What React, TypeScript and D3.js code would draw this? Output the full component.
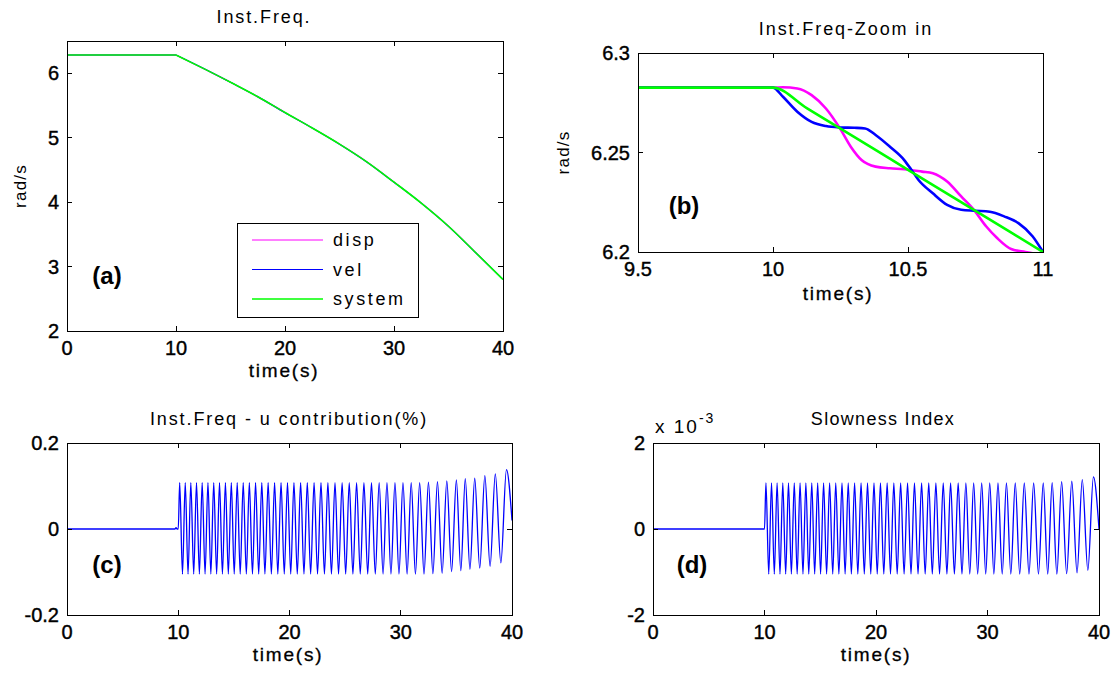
import React from "react";
import * as d3 from "d3";

// ---------- DATA ----------
// (a) instantaneous frequency, rad/s
const timeA = [0, 10, 12.5, 15, 17.5, 20, 22.5, 25, 27.5, 30, 32.5, 35, 37.5, 40];
const freqDispA = [6.283, 6.283, 6.073, 5.861, 5.633, 5.392, 5.149, 4.901, 4.627, 4.312, 3.986, 3.626, 3.216, 2.8];
const freqVelA = [6.283, 6.283, 6.077, 5.859, 5.637, 5.388, 5.151, 4.899, 4.623, 4.308, 3.984, 3.624, 3.214, 2.8];
const freqSysA = [6.283, 6.283, 6.075, 5.86, 5.635, 5.39, 5.15, 4.9, 4.625, 4.31, 3.985, 3.625, 3.215, 2.8];

// (b) zoom on 9.5 - 11 s
const timeDispB = [9.5, 10, 10.037, 10.09, 10.143, 10.196, 10.248, 10.288, 10.328, 10.38, 10.433, 10.486, 10.552, 10.592, 10.645, 10.697, 10.744, 10.79, 10.83, 10.882, 10.935, 11.0];
const freqDispB = [6.2826, 6.2826, 6.2828, 6.2822, 6.2788, 6.2721, 6.2621, 6.2529, 6.2462, 6.2429, 6.2421, 6.2416, 6.2404, 6.2396, 6.2354, 6.2279, 6.2212, 6.2128, 6.207, 6.2015, 6.2, 6.1985];
const timeVelB = [9.5, 10, 10.037, 10.09, 10.143, 10.196, 10.248, 10.301, 10.341, 10.38, 10.433, 10.486, 10.513, 10.539, 10.592, 10.645, 10.697, 10.75, 10.803, 10.856, 10.909, 10.962, 11.0];
const freqVelB = [6.2826, 6.2826, 6.278, 6.2705, 6.2654, 6.2633, 6.2626, 6.2624, 6.2621, 6.2588, 6.2529, 6.2462, 6.2412, 6.2362, 6.2295, 6.2237, 6.2212, 6.2207, 6.2202, 6.2179, 6.2145, 6.2078, 6.2];
const timeSysB = [9.5, 10, 10.125, 10.25, 10.375, 10.5, 10.625, 10.75, 10.875, 11.0];
const freqSysB = [6.2826, 6.2826, 6.2723, 6.262, 6.2517, 6.2413, 6.231, 6.2207, 6.2104, 6.2];

// (c)/(d) oscillation: times of the maxima and minima after 10 s
const maxTimes = [10.13, 10.63, 11.13, 11.64, 12.15, 12.67, 13.19, 13.71, 14.24, 14.77, 15.3, 15.84, 16.39, 16.95, 17.51, 18.08, 18.66, 19.24, 19.82, 20.4, 21.0, 21.6, 22.21, 22.83, 23.45, 24.09, 24.73, 25.37, 26.03, 26.69, 27.37, 28.06, 28.76, 29.48, 30.2, 30.94, 31.7, 32.49, 33.3, 34.14, 35.0, 35.8, 36.65, 37.56, 38.5, 39.5];
const minTimes = [10.38, 10.88, 11.39, 11.9, 12.41, 12.93, 13.45, 13.97, 14.5, 15.03, 15.57, 16.12, 16.67, 17.23, 17.79, 18.37, 18.95, 19.53, 20.11, 20.7, 21.3, 21.9, 22.52, 23.14, 23.77, 24.41, 25.05, 25.7, 26.36, 27.03, 27.71, 28.41, 29.12, 29.84, 30.57, 31.32, 32.09, 32.89, 33.72, 34.57, 35.4, 36.22, 37.1, 38.03, 39.0];

// (c) u contribution (%)
const maxValsC = [0.108, 0.108, 0.108, 0.108, 0.108, 0.108, 0.108, 0.108, 0.108, 0.108, 0.108, 0.108, 0.108, 0.108, 0.108, 0.108, 0.108, 0.108, 0.108, 0.108, 0.108, 0.108, 0.108, 0.108, 0.108, 0.108, 0.108, 0.108, 0.108, 0.108, 0.108, 0.108, 0.108, 0.108, 0.108, 0.108, 0.108, 0.109, 0.11, 0.112, 0.114, 0.117, 0.118, 0.124, 0.128, 0.138];
const minValsC = [-0.105, -0.105, -0.105, -0.105, -0.105, -0.105, -0.105, -0.105, -0.105, -0.105, -0.105, -0.105, -0.105, -0.105, -0.105, -0.105, -0.105, -0.105, -0.105, -0.105, -0.105, -0.105, -0.105, -0.105, -0.105, -0.105, -0.105, -0.105, -0.105, -0.105, -0.105, -0.105, -0.105, -0.105, -0.105, -0.105, -0.105, -0.104, -0.103, -0.099, -0.097, -0.094, -0.091, -0.087, -0.079];
const preTimesC = [0, 9.7, 9.8, 9.9, 10.0];
const preValsC = [0, 0, 0.003, 0, 0];
const endTimeC = 40;
const endValC = 0.02;

// (d) slowness index (x 10^-3)
const maxValsD = [1.07, 1.07, 1.07, 1.07, 1.07, 1.07, 1.07, 1.07, 1.07, 1.07, 1.07, 1.07, 1.07, 1.07, 1.07, 1.07, 1.07, 1.07, 1.07, 1.07, 1.07, 1.07, 1.07, 1.07, 1.07, 1.07, 1.07, 1.07, 1.07, 1.07, 1.07, 1.07, 1.07, 1.07, 1.07, 1.07, 1.07, 1.07, 1.07, 1.07, 1.07, 1.08, 1.1, 1.11, 1.15, 1.21];
const minValsD = [-1.05, -1.05, -1.05, -1.05, -1.05, -1.05, -1.05, -1.05, -1.05, -1.05, -1.05, -1.05, -1.05, -1.05, -1.05, -1.05, -1.05, -1.05, -1.05, -1.05, -1.05, -1.05, -1.05, -1.05, -1.05, -1.05, -1.05, -1.05, -1.05, -1.05, -1.05, -1.05, -1.05, -1.05, -1.05, -1.05, -1.05, -1.05, -1.05, -1.05, -1.05, -1.05, -1.04, -1.02, -0.96];
const preTimesD = [0, 10.0];
const preValsD = [0, 0];
const endTimeD = 40;
const endValD = 0.0;

// ticks
const xTicksTime = [0, 10, 20, 30, 40];
const yTicksA = [2, 3, 4, 5, 6];
const xTicksB = [9.5, 10, 10.5, 11];
const xTickLabelsB = ["9.5", "10", "10.5", "11"];
const yTicksB = [6.2, 6.25, 6.3];
const yTickLabelsB = ["6.2", "6.25", "6.3"];
const yTicksC = [-0.2, 0, 0.2];
const yTickLabelsC = ["-0.2", "0", "0.2"];
const yTicksD = [-2, 0, 2];

const legendNames = ["disp", "vel", "system"];
const COLORS: Record<string, string> = { disp: "#ff00ff", vel: "#0000ff", system: "#00ff00" };

// ---------- HELPERS ----------
const FONT = "'Liberation Sans', Arial, Helvetica, sans-serif";

type Pt = [number, number];
const zip = (t: number[], v: number[]): Pt[] => t.map((x, i) => [x, v[i]] as Pt);

function oscSeries(preT: number[], preV: number[], maxT: number[], maxV: number[], minT: number[], minV: number[], endT: number, endV: number): Pt[] {
  const pts: Pt[] = zip(preT, preV);
  for (let i = 0; i < maxT.length; i++) {
    pts.push([maxT[i], maxV[i]]);
    if (i < minT.length) pts.push([minT[i], minV[i]]);
  }
  pts.push([endT, endV]);
  return pts;
}

type PanelProps = {
  id: string;
  x0: number; x1: number; y0: number; y1: number;
  xDomain: [number, number]; yDomain: [number, number];
  xTicks: number[]; xLabels: string[];
  yTicks: number[]; yLabels: string[];
  title: string; titleX: number; titleSpacing: number;
  xlabel: string; xlabelX: number; xlabelDy: number;
  ylabel?: string; ylabelX?: number;
  children: (x: d3.ScaleLinear<number, number>, y: d3.ScaleLinear<number, number>) => React.ReactNode;
};

function Panel(p: PanelProps) {
  const x = d3.scaleLinear().domain(p.xDomain).range([p.x0, p.x1]);
  const y = d3.scaleLinear().domain(p.yDomain).range([p.y1, p.y0]);
  const tl = 5;
  const cy = (p.y0 + p.y1) / 2;
  return (
    <g>
      <defs>
        <clipPath id={"clip-" + p.id}>
          <rect x={p.x0} y={p.y0} width={p.x1 - p.x0} height={p.y1 - p.y0} />
        </clipPath>
      </defs>
      <rect x={p.x0} y={p.y0} width={p.x1 - p.x0} height={p.y1 - p.y0} fill="#fff" />
      <g clipPath={`url(#clip-${p.id})`}>{p.children(x, y)}</g>
      <rect x={p.x0} y={p.y0} width={p.x1 - p.x0} height={p.y1 - p.y0} fill="none" stroke="#000" strokeWidth={1} shapeRendering="crispEdges" />
      {p.xTicks.map((t, i) => (
        <g key={"xt" + i}>
          <line x1={x(t)} x2={x(t)} y1={p.y1} y2={p.y1 - tl} stroke="#000" shapeRendering="crispEdges" />
          <line x1={x(t)} x2={x(t)} y1={p.y0} y2={p.y0 + tl} stroke="#000" shapeRendering="crispEdges" />
          <text x={x(t)} y={p.y1 + 24} textAnchor="middle" fontSize={20} fontFamily={FONT} fill="#000" stroke="#000" strokeWidth={0.4}>{p.xLabels[i]}</text>
        </g>
      ))}
      {p.yTicks.map((t, i) => (
        <g key={"yt" + i}>
          <line x1={p.x0} x2={p.x0 + tl} y1={y(t)} y2={y(t)} stroke="#000" shapeRendering="crispEdges" />
          <line x1={p.x1} x2={p.x1 - tl} y1={y(t)} y2={y(t)} stroke="#000" shapeRendering="crispEdges" />
          <text x={p.x0 - 8} y={y(t) + 7} textAnchor="end" fontSize={20} fontFamily={FONT} fill="#000" stroke="#000" strokeWidth={0.4}>{p.yLabels[i]}</text>
        </g>
      ))}
      <text x={p.titleX} y={p.y0 - 18} textAnchor="middle" fontSize={18} letterSpacing={p.titleSpacing} fontFamily={FONT} fill="#000">{p.title}</text>
      <text x={p.xlabelX} y={p.y1 + p.xlabelDy} textAnchor="middle" fontSize={19} letterSpacing={1.8} fontFamily={FONT} fill="#000" stroke="#000" strokeWidth={0.3}>{p.xlabel}</text>
      {p.ylabel ? (
        <text transform={`translate(${p.ylabelX},${cy}) rotate(-90)`} textAnchor="middle" fontSize={17} letterSpacing={1.2} fontFamily={FONT} fill="#000">{p.ylabel}</text>
      ) : null}
    </g>
  );
}

export default function App() {
  const fmt = (v: number) => String(v);
  const seriesA = [
    { name: "disp", t: timeA, v: freqDispA },
    { name: "vel", t: timeA, v: freqVelA },
    { name: "system", t: timeA, v: freqSysA },
  ];
  const seriesB = [
    { name: "disp", pts: zip(timeDispB, freqDispB) },
    { name: "vel", pts: zip(timeVelB, freqVelB) },
    { name: "system", pts: zip(timeSysB, freqSysB) },
  ];
  const seriesC = oscSeries(preTimesC, preValsC, maxTimes, maxValsC, minTimes, minValsC, endTimeC, endValC);
  const seriesD = oscSeries(preTimesD, preValsD, maxTimes, maxValsD, minTimes, minValsD, endTimeD, endValD);

  return (
    <svg width={1116} height={675} style={{ position: "absolute", left: 0, top: 0, background: "#fff" }}>
      <rect width={1116} height={675} fill="#fff" />
      {/* (a) */}
      <Panel id="a" x0={67} x1={503} y0={41} y1={331} xDomain={[0, 40]} yDomain={[2, 6.5]}
        xTicks={xTicksTime} xLabels={xTicksTime.map(fmt)} yTicks={yTicksA} yLabels={yTicksA.map(fmt)}
        title="Inst.Freq." titleX={264} titleSpacing={1.9} xlabel="time(s)" xlabelX={284} xlabelDy={46} ylabel="rad/s" ylabelX={26}>
        {(x, y) => {
          const flat = d3.line<Pt>().x((d) => x(d[0])).y((d) => y(d[1]));
          const smooth = d3.line<Pt>().x((d) => x(d[0])).y((d) => y(d[1])).curve(d3.curveMonotoneX);
          return seriesA.map((s) => {
            const pts = zip(s.t, s.v);
            const before = pts.filter((d) => d[0] <= 10);
            const after = pts.filter((d) => d[0] >= 10);
            const sw = s.name === "system" ? 1.6 : 1.2;
            return (
              <g key={s.name}>
                <path d={flat(before) || ""} fill="none" stroke={COLORS[s.name]} strokeWidth={sw} />
                <path d={smooth(after) || ""} fill="none" stroke={COLORS[s.name]} strokeWidth={sw} />
              </g>
            );
          });
        }}
      </Panel>
      {/* legend (a) */}
      <g>
        <rect x={237} y={223} width={181} height={94} fill="#fff" stroke="#000" strokeWidth={1} shapeRendering="crispEdges" />
        {legendNames.map((n, i) => (
          <g key={n}>
            <line x1={252} x2={323} y1={240 + i * 29.5} y2={240 + i * 29.5} stroke={COLORS[n]} strokeWidth={n === "system" ? 1.6 : 1.2} />
            <text x={333} y={246 + i * 29.5} fontSize={18} letterSpacing={2.6} fontFamily={FONT} fill="#000">{n}</text>
          </g>
        ))}
      </g>
      <text x={107} y={284} textAnchor="middle" fontSize={24} fontWeight="bold" fontFamily={FONT} fill="#000">(a)</text>

      {/* (b) */}
      <Panel id="b" x0={638} x1={1043} y0={53} y1={252} xDomain={[9.5, 11]} yDomain={[6.2, 6.3]}
        xTicks={xTicksB} xLabels={xTickLabelsB} yTicks={yTicksB} yLabels={yTickLabelsB}
        title="Inst.Freq-Zoom in" titleX={846} titleSpacing={1.9} xlabel="time(s)" xlabelX={838} xlabelDy={48} ylabel="rad/s" ylabelX={569}>
        {(x, y) => {
          const line = d3.line<Pt>().x((d) => x(d[0])).y((d) => y(d[1])).curve(d3.curveMonotoneX);
          return seriesB.map((s) => (
            <path key={s.name} d={line(s.pts) || ""} fill="none" stroke={COLORS[s.name]} strokeWidth={2.6} />
          ));
        }}
      </Panel>
      <text x={684} y={214} textAnchor="middle" fontSize={24} fontWeight="bold" fontFamily={FONT} fill="#000">(b)</text>

      {/* (c) */}
      <Panel id="c" x0={67} x1={512} y0={443} y1={615} xDomain={[0, 40]} yDomain={[-0.2, 0.2]}
        xTicks={xTicksTime} xLabels={xTicksTime.map(fmt)} yTicks={yTicksC} yLabels={yTickLabelsC}
        title="Inst.Freq - u contribution(%)" titleX={289} titleSpacing={1.9} xlabel="time(s)" xlabelX={288} xlabelDy={46}>
        {(x, y) => {
          const line = d3.line<Pt>().x((d) => x(d[0])).y((d) => y(d[1])).curve(d3.curveMonotoneX);
          return <path d={line(seriesC) || ""} fill="none" stroke="#0000ff" strokeWidth={1.3} />;
        }}
      </Panel>
      <text x={107} y={573} textAnchor="middle" fontSize={24} fontWeight="bold" fontFamily={FONT} fill="#000">(c)</text>

      {/* (d) */}
      <Panel id="d" x0={653} x1={1099} y0={443} y1={615} xDomain={[0, 40]} yDomain={[-2, 2]}
        xTicks={xTicksTime} xLabels={xTicksTime.map(fmt)} yTicks={yTicksD} yLabels={yTicksD.map(fmt)}
        title="Slowness Index" titleX={883} titleSpacing={1.3} xlabel="time(s)" xlabelX={876} xlabelDy={46}>
        {(x, y) => {
          const line = d3.line<Pt>().x((d) => x(d[0])).y((d) => y(d[1])).curve(d3.curveMonotoneX);
          return <path d={line(seriesD) || ""} fill="none" stroke="#0000ff" strokeWidth={1.3} />;
        }}
      </Panel>
      <text x={692} y={573} textAnchor="middle" fontSize={24} fontWeight="bold" fontFamily={FONT} fill="#000">(d)</text>
      <text x={655} y={433} fontSize={19} letterSpacing={2} fontFamily={FONT} fill="#000">
        x 10<tspan dy={-10} fontSize={14}>-3</tspan>
      </text>
    </svg>
  );
}
